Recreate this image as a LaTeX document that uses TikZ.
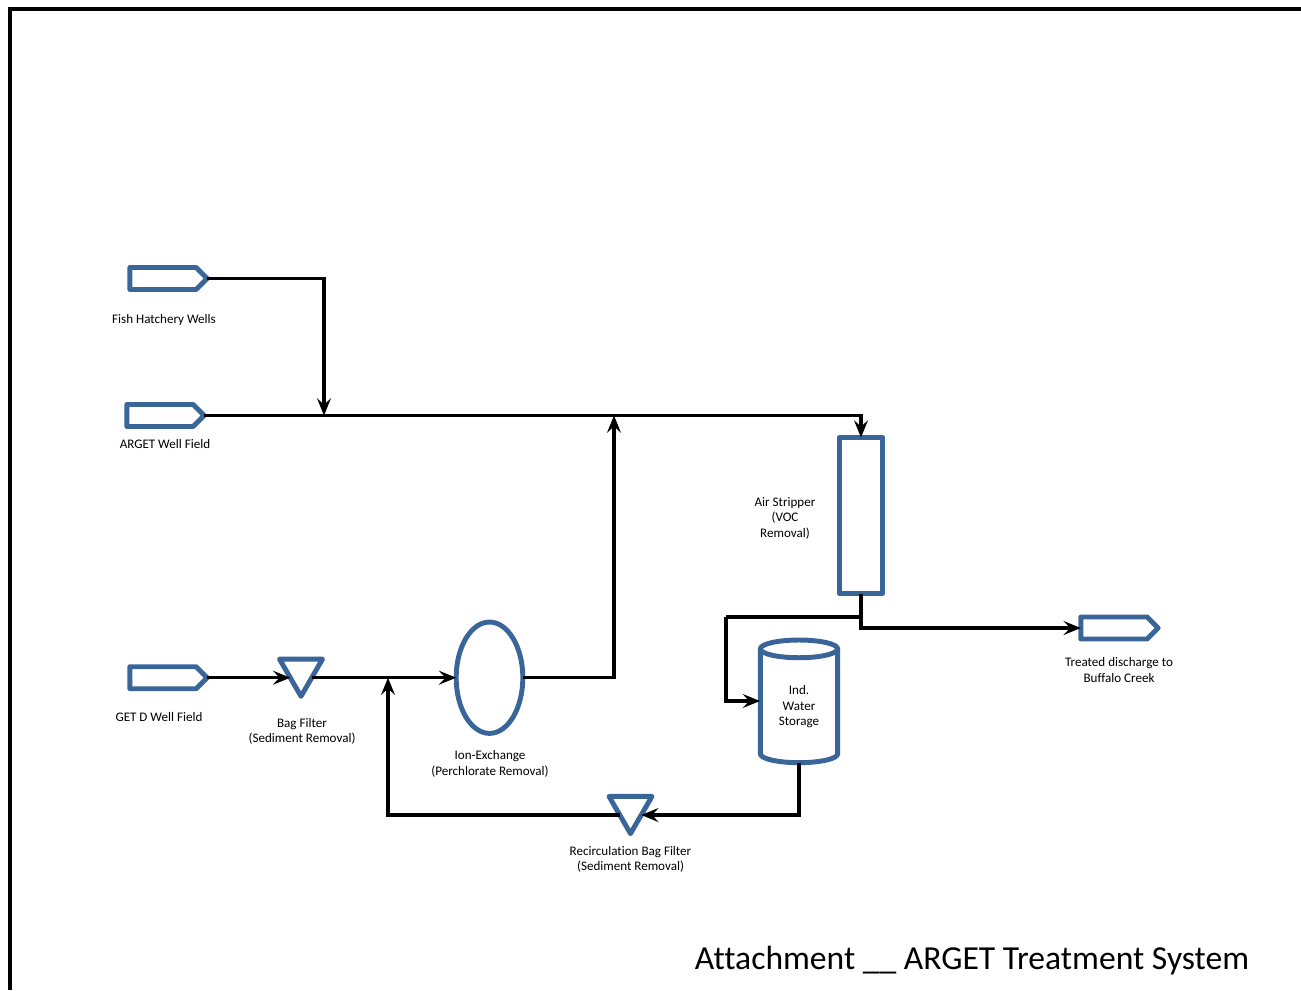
\documentclass[tikz,border=0pt]{standalone}
\usepackage{fontspec}
\setmainfont{Carlito}[Ligatures = NoCommon]
\usetikzlibrary{arrows.meta,shapes.geometric,shapes.symbols}
\definecolor{unitblue}{HTML}{3A6599}
\tikzset{
	unit/.style = {draw = unitblue, line width = 3.7pt, line join = round, inner sep = 0pt, outer sep = 0pt},
	stream/.style = {unit, signal, signal to = east, signal from = nowhere, signal pointer angle = 90, minimum width = 58pt, minimum height = 16.5pt},
	bagfilter/.style = {unit, regular polygon, regular polygon sides = 3, shape border rotate = 180, minimum size = 37.2pt},
	flow/.style = {line width = 2.5pt},
	flowin/.style = {flow, -{Stealth[length = 13pt, width = 10.5pt, inset = 5pt]}},
	caption/.style = {align = center, font = \fontsize{9.8}{11.6}\selectfont}
}
\begin{document}
\begin{tikzpicture}[x = 0.75pt, y = -0.75pt]
		\useasboundingbox (0,0) rectangle (1301,990);
		\coordinate (framebottom) at (10,990);
		\coordinate (framecorner) at (10,9);
		\coordinate (frameright) at (1301,9);
		\draw[line width = 3pt] (framebottom) -- (framecorner) -- (frameright);
		\node[stream] (fish) at (163,278.5) {};
		\node[stream] (arget) at (160,415.5) {};
		\node[stream] (getd) at (163,677.7) {};
		\node[stream] (treated) at (1114,628) {};
		\node[bagfilter] (bag) at (301,671.5) {};
		\node[bagfilter] (recirc) at (630.5,808.8) {};
		\node[unit, ellipse, minimum width = 50pt, minimum height = 83.5pt] (ion) at (489.5,677.7) {};
		\node[unit, rectangle, minimum width = 32.5pt, minimum height = 117pt] (stripper) at (861,515.5) {};
		\node[unit, cylinder, shape border rotate = 90, shape aspect = 0.44, minimum width = 58pt, minimum height = 92pt, caption] (storage) at (799,707) {Ind.\\Water\\Storage};
		\node[caption] (fishlabel) at (164,320.5) {Fish Hatchery Wells};
		\node[caption] (argetlabel) at (165,444) {ARGET Well Field};
		\node[caption] (getdlabel) at (159,717) {GET D Well Field};
		\node[caption] (baglabel) at (302,731.5) {Bag Filter\\(Sediment Removal)};
		\node[caption] (ionlabel) at (490,764) {Ion-Exchange\\(Perchlorate Removal)};
		\node[caption] (recirclabel) at (630.5,859.5) {Recirculation Bag Filter\\(Sediment Removal)};
		\node[caption] (stripperlabel) at (785,518) {Air Stripper\\(VOC\\Removal)};
		\node[caption] (treatedlabel) at (1119,670) {Treated discharge to\\Buffalo Creek};
		\node[font = \fontsize{25.2}{28}\selectfont] (title) at (972,960.5) {Attachment \_\_ ARGET Treatment System};
		\coordinate (fishjoin) at (324,415.5);
		\coordinate (ionjoin) at (614,415.5);
		\coordinate (recircjoin) at (388,677.7);
		\coordinate (stripperjoin) at (861,617);
		\coordinate (storagebend) at (726,617);
		\coordinate (storagein) at (760,701);
		\draw[flowin] (fish.east) -| (fishjoin);
		\draw[flowin] (arget.east) -| (stripper.north);
		\draw[flowin] (getd.east) -- (bag.side 3 |- getd.east);
		\draw[flowin] (bag.side 1 |- ion.west) -- (ion.west);
		\draw[flowin] (ion.east) -| (ionjoin);
		\draw[flowin] (stripper.south) |- (treated.west);
		\draw[flow] (stripperjoin) -- (storagebend);
		\draw[flowin] (storagebend) |- (storagein);
		\draw[flowin] (storage.south) |- (recirc.side 1);
		\draw[flowin] (recirc.side 3) -| (recircjoin);
	\end{tikzpicture}
\end{document}
